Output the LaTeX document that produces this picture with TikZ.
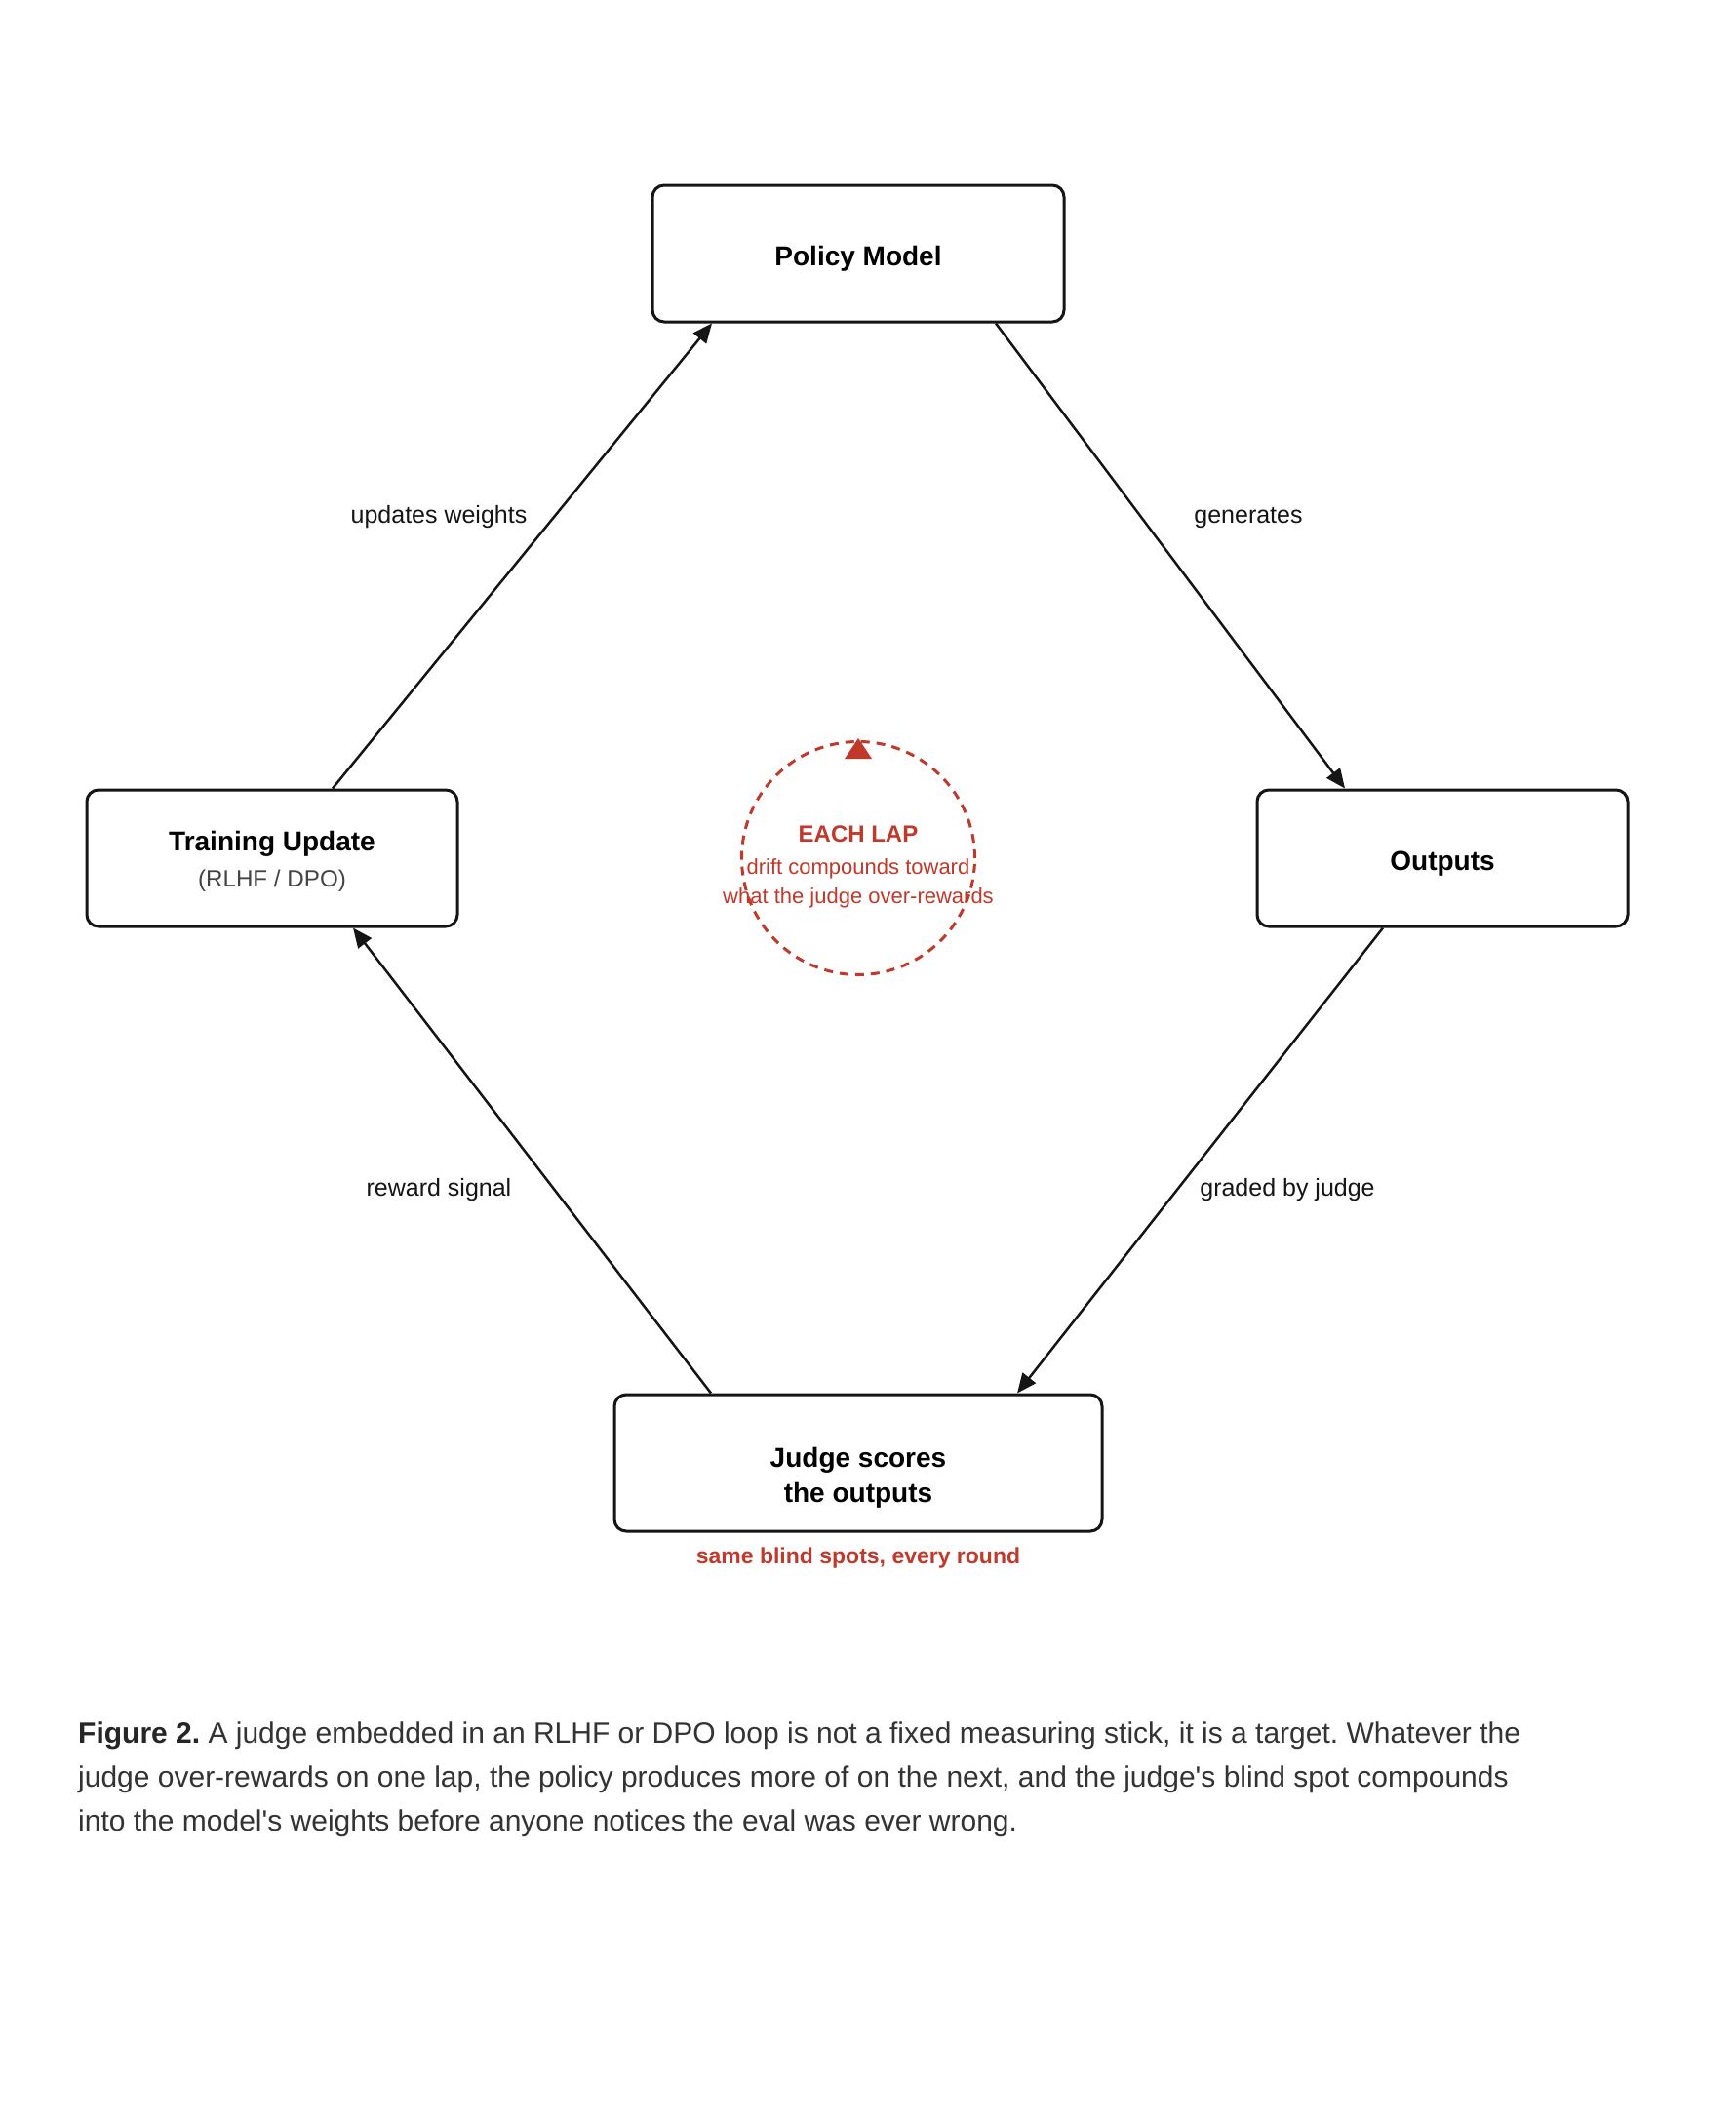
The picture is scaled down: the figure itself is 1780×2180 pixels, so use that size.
\documentclass[tikz,border=0pt]{standalone}
\usepackage{fontspec}
\setmainfont{Liberation Sans}[Ligatures=TeXOff]
\usetikzlibrary{arrows.meta}
\definecolor{lapred}{HTML}{C0392B}
\definecolor{ink}{HTML}{151515}
\definecolor{subgray}{HTML}{444444}
\definecolor{capgray}{HTML}{333333}
\frenchspacing
\begin{document}
\begin{tikzpicture}[x=1pt,y=-1pt,
  box/.style={draw=ink, line width=3pt, rounded corners=12pt, inner sep=0pt, fill=white},
  boxtitle/.style={font=\fontsize{28}{32}\selectfont\bfseries, text=black, inner sep=0pt, anchor=base},
  boxsub/.style={font=\fontsize{24.2}{28}\selectfont, text=subgray, inner sep=0pt, anchor=base},
  edgelabel/.style={font=\fontsize{25}{28}\selectfont, text=ink, inner sep=0pt, anchor=base},
  conn/.style={draw=ink, line width=2.5pt, -{Triangle[length=20pt,width=17pt]}},
  lapcircle/.style={draw=lapred, line width=3pt, dash pattern=on 9pt off 7pt, circle, inner sep=0pt, minimum size=239pt},
  laptitle/.style={font=\fontsize{24}{26}\selectfont\bfseries, text=lapred, inner sep=0pt, anchor=base},
  laptext/.style={font=\fontsize{22}{26}\selectfont, text=lapred, inner sep=0pt, anchor=base},
  note/.style={font=\fontsize{23}{28}\selectfont\bfseries, text=lapred, inner sep=0pt, anchor=base}]
\fill[white] (0,0) rectangle (1780,2180);
\useasboundingbox (0,0) rectangle (1780,2180);

% boxes
\node[box, minimum width=422pt, minimum height=140pt] (pol) at (880,260) {};
\node[box, minimum width=380pt, minimum height=140pt] (tu) at (279,880) {};
\node[box, minimum width=380pt, minimum height=140pt] (out) at (1479,880) {};
\node[box, minimum width=500pt, minimum height=140pt] (jud) at (880,1500) {};

% box texts
\node[boxtitle] (polT) at (880,272) {Policy Model};
\node[boxtitle] (tuT) at (279,872) {Training Update};
\node[boxsub] (tuS) at (279,909) {(RLHF / DPO)};
\node[boxtitle] (outT) at (1479,892) {Outputs};
\node[boxtitle] (judT1) at (880,1504) {Judge scores};
\node[boxtitle] (judT2) at (880,1540) {the outputs};
\node[note] (blind) at (880,1603) {same blind spots, every round};

% connectors
\draw[conn] ([xshift=141pt]pol.south) -- ([xshift=-100pt]out.north);
\draw[conn] ([xshift=-61pt]out.south) -- ([xshift=163pt]jud.north);
\draw[conn] ([xshift=-151pt]jud.north) -- ([xshift=83pt]tu.south);
\draw[conn] ([xshift=62pt]tu.north) -- ([xshift=-150pt]pol.south);

% edge labels
\node[edgelabel] (lupd) at (450,536) {updates weights};
\node[edgelabel] (lgen) at (1280,536) {generates};
\node[edgelabel] (lrew) at (450,1226) {reward signal};
\node[edgelabel] (lgrd) at (1320,1226) {graded by judge};

% lap circle
\node[lapcircle] (lap) at (880,880) {};
\fill[lapred] ([yshift=2pt]lap.north) -- ([xshift=14pt,yshift=-19pt]lap.north) -- ([xshift=-14pt,yshift=-19pt]lap.north) -- cycle;
\node[laptitle] (lapT) at (880,863) {EACH LAP};
\node[laptext] (lap1) at (880,896) {drift compounds toward};
\node[laptext] (lap2) at (880,926) {what the judge over-rewards};

% caption
\node[anchor=north west, inner sep=0pt, align=left, text=capgray,
      font=\fontsize{30}{45}\selectfont] (cap) at (80,1765.5)
  {{\bfseries\color{black!85}Figure 2.} A judge embedded in an RLHF or DPO loop is not a fixed measuring stick, it is a target. Whatever the\\
   judge over-rewards on one lap, the policy produces more of on the next, and the judge's blind spot compounds\\
   into the model's weights before anyone notices the eval was ever wrong.};
\end{tikzpicture}
\end{document}
